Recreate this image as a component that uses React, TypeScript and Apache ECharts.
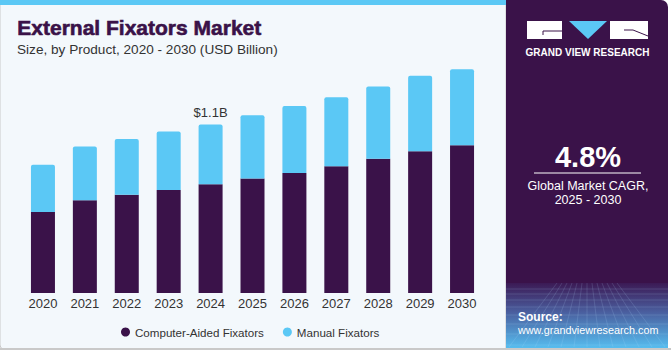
import React, { useEffect, useRef } from "react";
import * as echarts from "echarts";

const years = ["2020", "2021", "2022", "2023", "2024", "2025", "2026", "2027", "2028", "2029", "2030"];
const computerAided = [0.529, 0.606, 0.641, 0.673, 0.71, 0.747, 0.784, 0.828, 0.876, 0.926, 0.965];
const manual = [0.308, 0.35, 0.364, 0.381, 0.39, 0.414, 0.438, 0.451, 0.472, 0.492, 0.497];
const labelIndex = 4;
const labelText = "$1.1B";

const DARK = "#3a1249";
const LIGHT = "#5bc8f5";
const FONT = "Liberation Sans, Arial, sans-serif";

export default function App() {
  const ref = useRef<HTMLDivElement>(null);
  useEffect(() => {
    document.body.style.margin = "0";
    const chart = echarts.init(ref.current!, null, { renderer: "svg" });

    const mesh: any[] = [];
    const hy = [289, 294, 300, 307, 315, 324, 334, 345];
    hy.forEach((y) =>
      mesh.push({
        type: "line",
        shape: { x1: 506, y1: y, x2: 668, y2: y },
        style: { stroke: "rgba(180,220,255,0.22)", lineWidth: 0.7 },
        silent: true,
      })
    );
    for (let k = -6; k <= 6; k++) {
      mesh.push({
        type: "line",
        shape: { x1: 587 + k * 5, y1: 283, x2: 587 + k * 13, y2: 347 },
        style: { stroke: "rgba(180,220,255,0.22)", lineWidth: 0.7 },
        silent: true,
      });
    }

    chart.setOption({
      animation: false,
      backgroundColor: "#ffffff",
      textStyle: { fontFamily: FONT },
      grid: { left: 22, right: 188, top: 48, bottom: 57 },
      xAxis: {
        type: "category",
        data: years,
        axisLine: { show: false },
        axisTick: { show: false },
        axisLabel: { color: "#333", fontSize: 13, margin: 4, fontFamily: FONT },
      },
      yAxis: { type: "value", min: 0, max: 1.6, show: false, splitLine: { show: false } },
      legend: {
        left: 116,
        top: 321,
        icon: "circle",
        itemWidth: 9,
        itemHeight: 9,
        itemGap: 19,
        textStyle: { color: "#333", fontSize: 11.6, fontFamily: FONT },
        data: ["Computer-Aided Fixators", "Manual Fixators"],
      },
      graphic: [
        { type: "rect", z: -10, shape: { x: 0, y: 0, width: 671, height: 350 }, style: { fill: "#ffffff" }, silent: true },
        { type: "rect", z: -9, shape: { x: 0, y: 0, width: 506, height: 349, r: [0, 0, 0, 4] }, style: { fill: "#f3f8fc", stroke: "#c9c9c9", lineWidth: 1 }, silent: true },
        { type: "rect", z: -8, shape: { x: 0, y: 0, width: 506, height: 5 }, style: { fill: LIGHT }, silent: true },
        { type: "rect", z: -8, shape: { x: 506, y: 0, width: 162, height: 348, r: [0, 7, 0, 0] }, style: { fill: DARK }, silent: true },
        {
          type: "rect",
          z: -7,
          shape: { x: 506, y: 283, width: 162, height: 65 },
          style: {
            fill: new echarts.graphic.LinearGradient(0, 0, 0, 1, [
              { offset: 0, color: "#3c1a55" },
              { offset: 0.45, color: "#4a5f9f" },
              { offset: 1, color: "#56bdef" },
            ]),
          },
          silent: true,
        },
        { type: "group", z: -6, children: mesh, silent: true },
        { type: "rect", z: -5, shape: { x: 0, y: 348, width: 671, height: 2 }, style: { fill: "#c9c9c9" }, silent: true },
        // title
        {
          type: "text",
          left: 17,
          top: 17,
          style: {
            text: "External Fixators Market",
            fill: "#3a1248",
            font: "bold 21px " + FONT,
            stroke: "#3a1248",
            lineWidth: 0.6,
          },
        },
        {
          type: "text",
          left: 17,
          top: 42,
          style: { text: "Size, by Product, 2020 - 2030 (USD Billion)", fill: "#333", font: "13.6px " + FONT },
        },
        // logo
        { type: "rect", shape: { x: 527, y: 21, width: 35, height: 18 }, style: { fill: "#fff" } },
        { type: "polyline", shape: { points: [[562, 31], [543, 31], [543, 35]] }, style: { stroke: DARK, lineWidth: 1, fill: "none" } },
        { type: "polygon", shape: { points: [[569, 21], [607, 21], [588, 39]] }, style: { fill: LIGHT } },
        { type: "rect", shape: { x: 610, y: 21, width: 38, height: 18 }, style: { fill: "#fff" } },
        { type: "polyline", shape: { points: [[624, 30], [633, 30], [648, 36]] }, style: { stroke: DARK, lineWidth: 1, fill: "none" } },
        {
          type: "text",
          x: 587.5,
          y: 52,
          style: { text: "GRAND VIEW RESEARCH", fill: "#fff", font: "bold 10px " + FONT, align: "center", verticalAlign: "middle" },
        },
        // CAGR
        {
          type: "text",
          x: 588,
          y: 157,
          style: { text: "4.8%", fill: "#fff", font: "bold 29px " + FONT, align: "center", verticalAlign: "middle" },
        },
        { type: "line", shape: { x1: 534, y1: 173, x2: 641, y2: 173 }, style: { stroke: "#fff", lineWidth: 1 } },
        {
          type: "text",
          x: 588,
          y: 186,
          style: { text: "Global Market CAGR,", fill: "#fff", font: "12.5px " + FONT, align: "center", verticalAlign: "middle" },
        },
        {
          type: "text",
          x: 588,
          y: 200,
          style: { text: "2025 - 2030", fill: "#fff", font: "12.5px " + FONT, align: "center", verticalAlign: "middle" },
        },
        // source
        {
          type: "text",
          x: 518,
          y: 317,
          style: { text: "Source:", fill: "#fff", font: "bold 12px " + FONT, verticalAlign: "middle" },
        },
        {
          type: "text",
          x: 518,
          y: 330,
          style: { text: "www.grandviewresearch.com", fill: "#fff", font: "10.8px " + FONT, verticalAlign: "middle" },
        },
      ],
      series: [
        {
          name: "Computer-Aided Fixators",
          type: "bar",
          stack: "total",
          barWidth: 24,
          itemStyle: { color: DARK },
          data: computerAided,
        },
        {
          name: "Manual Fixators",
          type: "bar",
          stack: "total",
          barWidth: 24,
          itemStyle: { color: LIGHT, borderRadius: [2, 2, 0, 0] },
          data: manual.map((v, i) =>
            i === labelIndex
              ? {
                  value: v,
                  label: {
                    show: true,
                    position: "top",
                    distance: 6,
                    formatter: labelText,
                    color: "#333",
                    fontSize: 13,
                    fontFamily: FONT,
                  },
                }
              : v
          ),
        },
      ],
    });
    return () => chart.dispose();
  }, []);
  return <div ref={ref} style={{ width: 671, height: 350 }} />;
}
